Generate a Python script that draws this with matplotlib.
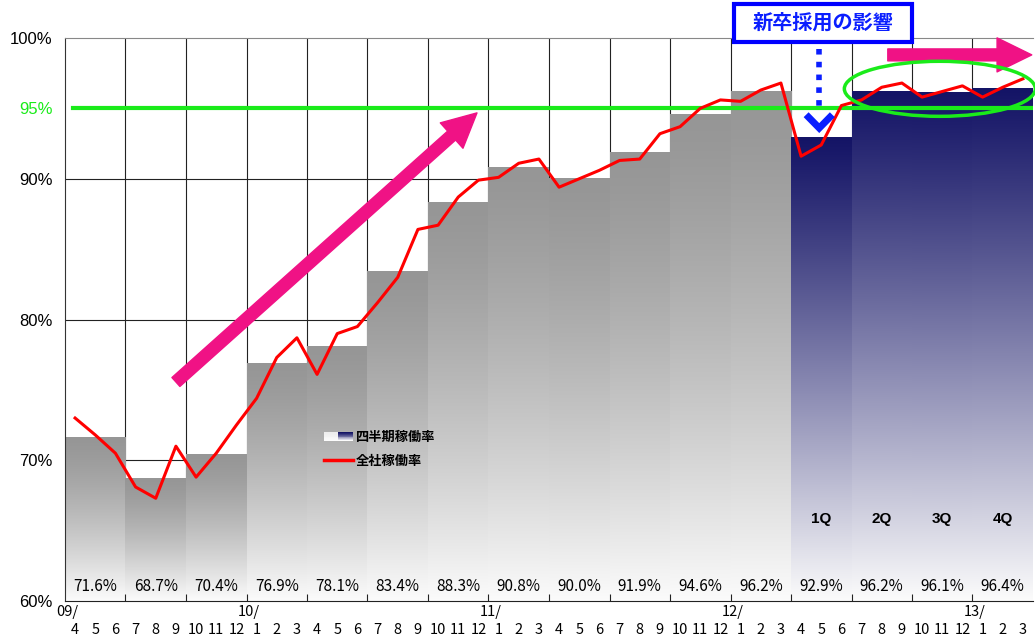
import numpy as np
import matplotlib
matplotlib.use("Agg")
import matplotlib.pyplot as plt
from matplotlib.patches import Rectangle, Ellipse, FancyArrowPatch, Patch
from matplotlib.lines import Line2D
from matplotlib.legend_handler import HandlerBase

plt.rcParams['font.family'] = ['Liberation Sans', 'Noto Sans CJK JP', 'DejaVu Sans']

# 四半期稼働率 (16 quarters, 09/4 - 13/3)
quarter_rate = [71.6, 68.7, 70.4, 76.9, 78.1, 83.4, 88.3, 90.8,
                90.0, 91.9, 94.6, 96.2, 92.9, 96.2, 96.1, 96.4]
quarter_names = {12: '1Q', 13: '2Q', 14: '3Q', 15: '4Q'}

# 全社稼働率 (monthly)
monthly_rate = [73.0, 71.8, 70.5, 68.1, 67.3, 71.0, 68.8, 70.5, 72.5, 74.4, 77.3, 78.7,
                76.1, 79.0, 79.5, 81.2, 83.0, 86.4, 86.7, 88.7, 89.9, 90.1, 91.1, 91.4,
                89.4, 90.0, 90.6, 91.3, 91.4, 93.2, 93.7, 95.0, 95.6, 95.5, 96.3, 96.8,
                91.6, 92.4, 95.2, 95.6, 96.5, 96.8, 95.8, 96.2, 96.6, 95.8, 96.5, 97.1]
month_labels = ['4', '5', '6', '7', '8', '9', '10', '11', '12', '1', '2', '3'] * 4
year_labels = {0: '09/', 9: '10/', 21: '11/', 33: '12/', 45: '13/'}
target = 95

GRAY = np.array([0x96, 0x96, 0x96]) / 255
NAVY = np.array([0x14, 0x14, 0x66]) / 255
GREEN = '#1aeb1a'
PINK = '#f01285'
BLUE = '#0a1eff'
CJK = ['Noto Sans CJK JP', 'DejaVu Sans']


def shade(top, n=200, p=1.3):
    t = np.linspace(0, 1, n) ** p
    col = top[None, :] + (0.985 - top[None, :]) * t[:, None]
    return col[:, None, :]


class GradHandler(HandlerBase):
    def create_artists(self, legend, orig, xd, yd, width, height, fontsize, trans):
        arts = []
        n = 10
        h = height / n
        for k in range(n):
            t = (k / (n - 1)) ** 1.2
            y = -yd + height - (k + 1) * h
            for j, top in enumerate([np.array([0.93, 0.93, 0.93]), NAVY]):
                c = top + (0.985 - top) * t
                arts.append(Rectangle((-xd + j * width / 2, y), width / 2, h,
                                      facecolor=c, edgecolor='none', transform=trans))
        return arts


fig = plt.figure(figsize=(10.35, 6.41), dpi=100)
ax = fig.add_axes([65 / 1035, 40 / 641, 968 / 1035, 563 / 641])

# grid
for v in [70, 80, 90]:
    ax.axhline(v, color='#222222', lw=0.8, zorder=0.5)
for q in range(1, 16):
    ax.axvline(3 * q - 0.5, color='#222222', lw=0.8, zorder=0.5)

# quarterly gradient bars
for q, v in enumerate(quarter_rate):
    top = NAVY if q >= 12 else GRAY
    ax.imshow(shade(top, p=1.1 if q >= 12 else 1.35),
              extent=[3 * q - 0.5, 3 * q + 2.5, 60, v], aspect='auto',
              interpolation='bilinear', zorder=1)
    ax.text(3 * q + 1, 61.0, f'{v:.1f}%', ha='center', va='center', fontsize=11,
            family=CJK, zorder=5)
    if q in quarter_names:
        ax.text(3 * q + 1, 65.8, quarter_names[q], ha='center', va='center',
                fontsize=11, fontweight='bold', zorder=5)

# target line
ax.plot([-0.1, 47.5], [target, target], color=GREEN, lw=3, zorder=3)

# monthly line
x = np.arange(len(monthly_rate))
ax.plot(x, monthly_rate, color='#ff0000', lw=2.2, zorder=4)

ax.set_xlim(-0.5, 47.5)
ax.set_ylim(60, 100)

# axes style
ax.spines['right'].set_visible(False)
ax.spines['top'].set_color('#888888')
ax.spines['left'].set_color('#333333')
ax.spines['bottom'].set_color('#222222')
for s in ax.spines.values():
    s.set_zorder(6)

ax.set_yticks([60, 70, 80, 90, 95, 100])
ax.set_yticklabels(['60%', '70%', '80%', '90%', '95%', '100%'], fontsize=12)
ax.get_yticklabels()[4].set_color(GREEN)
ax.tick_params(axis='y', length=0, pad=9)

ax.set_xticks([3 * q - 0.5 for q in range(1, 16)])
ax.set_xticklabels([])
ax.tick_params(axis='x', which='major', direction='in', length=5, color='#222222')
ax.set_xticks(x, minor=True)
ax.set_xticklabels(month_labels, minor=True, fontsize=10.5, family=CJK)
ax.tick_params(axis='x', which='minor', length=0, pad=16)
for i, lab in year_labels.items():
    ax.text(i + 0.15, -0.02, lab, transform=ax.get_xaxis_transform(), ha='right',
            va='center', fontsize=10.5, family=CJK, clip_on=False)

# arrows
ax.add_patch(FancyArrowPatch((5.0, 75.56), (19.93, 94.68),
                             arrowstyle='simple,head_length=24.5,head_width=24.5,tail_width=8.6',
                             mutation_scale=1, shrinkA=0, shrinkB=0, color=PINK, zorder=7))
ax.add_patch(FancyArrowPatch((40.3, 98.8), (47.44, 98.8),
                             arrowstyle='simple,head_length=25,head_width=24.5,tail_width=8.6',
                             mutation_scale=1, shrinkA=0, shrinkB=0, color=PINK, zorder=7,
                             clip_on=False))

# green ellipse
ax.add_patch(Ellipse((42.88, 96.39), 9.47, 3.91, fill=False, ec=GREEN, lw=2.5,
                     zorder=7, clip_on=False))

# callout: 新卒採用の影響
ax.plot([36.9, 36.9], [99.2, 95.1], color=BLUE, lw=4, ls=(0, (1, 1.3)),
        dash_capstyle='butt', zorder=7)
ax.plot([36.25, 36.9, 37.55], [94.55, 93.6, 94.55], color=BLUE, lw=5,
        solid_joinstyle='miter', solid_capstyle='butt', zorder=7)
fig.patches.append(Rectangle((734 / 1035, 1 - 42 / 641), 178 / 1035, 38 / 641,
                             transform=fig.transFigure, facecolor='white',
                             edgecolor='#0000ff', lw=3, zorder=8))
fig.text(823 / 1035, 1 - 22.5 / 641, '新卒採用の影響', ha='center', va='center',
         fontsize=14.5, fontweight='bold', color=BLUE, family=CJK, zorder=9)

# legend
grad_handle = Patch(label='四半期稼働率')
line_handle = Line2D([], [], color='#ff0000', lw=2.5, label='全社稼働率')
leg = ax.legend(handles=[grad_handle, line_handle], handler_map={grad_handle: GradHandler()},
                loc='lower left', bbox_to_anchor=(0.255, 0.215), frameon=False,
                prop={'family': CJK, 'size': 9.5, 'weight': 'bold'},
                handlelength=2.2, handletextpad=0.25, labelspacing=0.75)
leg.set_zorder(8)

fig.savefig('out.png', dpi=100)
